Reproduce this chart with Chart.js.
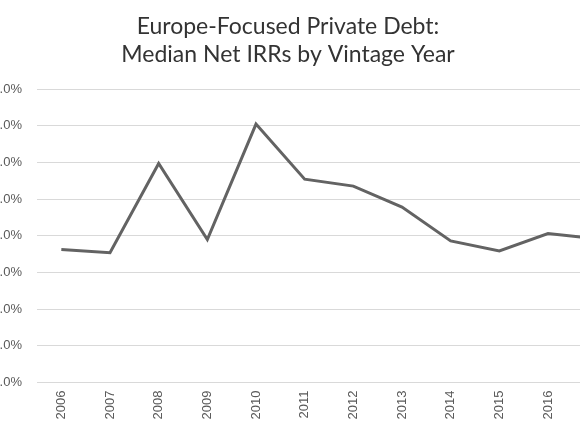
<!DOCTYPE html>
<html>
<head>
<meta charset="utf-8">
<script src="https://cdn.jsdelivr.net/npm/chart.js@4/dist/chart.umd.min.js"></script>
<style>
  html, body { margin: 0; padding: 0; background: #fff; overflow: hidden; }
  #wrap { position: absolute; left: -45px; top: 0; width: 670px; height: 435px; }
</style>
</head>
<body>
<div id="wrap"><canvas id="irrChart"></canvas></div>
<script>
// Europe-focused private debt, median net IRR (%) per vintage year
const vintageYears = ['2006', '2007', '2008', '2009', '2010', '2011', '2012', '2013', '2014', '2015', '2016', '2017'];
const medianNetIrr = [7.25, 7.08, 11.94, 7.79, 14.09, 11.09, 10.71, 9.57, 7.72, 7.17, 8.12, 7.84];
const titleLines = ['Europe-Focused Private Debt:', 'Median Net IRRs by Vintage Year'];
const yMin = 0, yMax = 16, yStep = 2;

new Chart(document.getElementById('irrChart'), {
    type: 'line',
    data: {
        labels: vintageYears,
        datasets: [{
            data: medianNetIrr,
            borderColor: 'rgb(99, 99, 99)',
            borderWidth: 3,
            pointRadius: 0,
            tension: 0
        }]
    },
    options: {
        responsive: true,
        maintainAspectRatio: false,
        animation: false,
        layout: { padding: { left: 0, right: 4, top: 0, bottom: 0 } },
        plugins: {
            legend: { display: false },
            tooltip: { enabled: false },
            title: {
                display: true,
                text: titleLines,
                color: '#333333',
                font: { family: 'Lato', size: 23, weight: 'normal', lineHeight: 1.23 },
                padding: { top: 12.5, bottom: 20 }
            }
        },
        scales: {
            x: {
                offset: true,
                grid: { display: false, drawTicks: false },
                border: { display: false },
                ticks: {
                    minRotation: 90,
                    maxRotation: 90,
                    padding: 8,
                    color: '#595959',
                    font: { family: 'Liberation Sans', size: 13 }
                },
                afterFit: s => { s.height = 52.5; }
            },
            y: {
                min: yMin,
                max: yMax,
                grid: { color: '#d9d9d9', lineWidth: 1, drawTicks: false },
                border: { display: false },
                ticks: {
                    stepSize: yStep,
                    padding: 15,
                    color: '#595959',
                    font: { family: 'Liberation Sans', size: 13 },
                    callback: v => v.toFixed(1) + '%'
                },
                afterFit: s => { s.width = 82; }
            }
        }
    }
});
</script>
</body>
</html>
